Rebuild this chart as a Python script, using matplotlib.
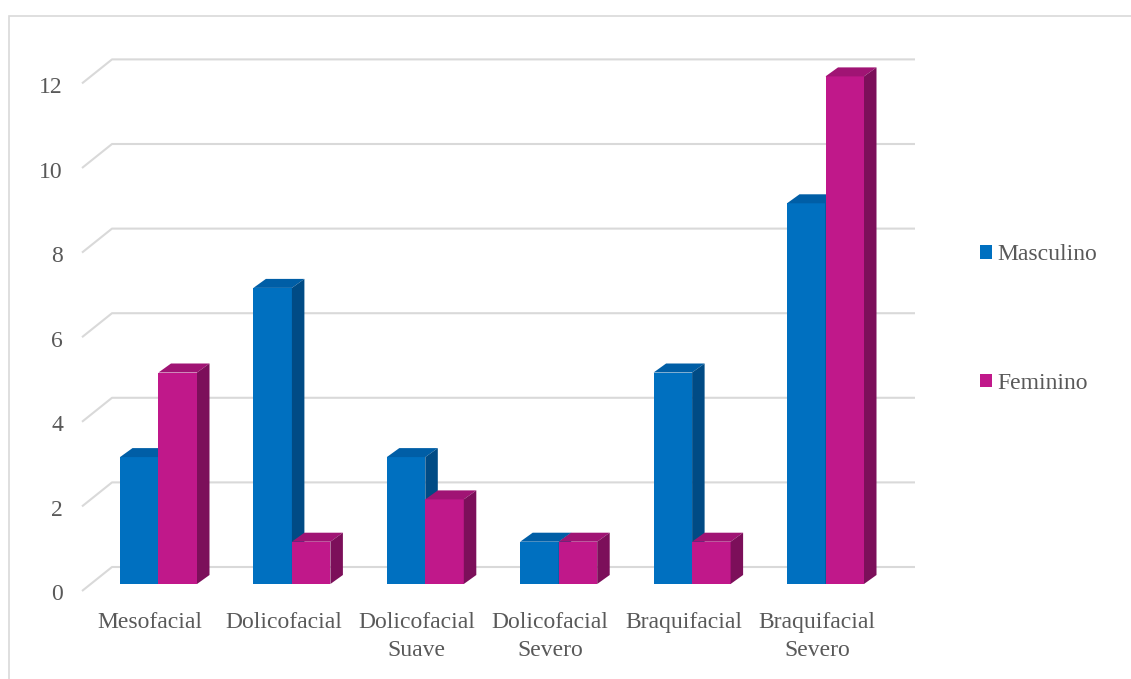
import matplotlib
matplotlib.use('Agg')
import matplotlib.pyplot as plt
from matplotlib.patches import Polygon, Rectangle, Patch

# ---- data ----
categories = ["Mesofacial", "Dolicofacial", "Dolicofacial\nSuave",
              "Dolicofacial\nSevero", "Braquifacial", "Braquifacial\nSevero"]
masculino = [3, 7, 3, 1, 5, 9]
feminino = [5, 1, 2, 1, 1, 12]
series_names = ["Masculino", "Feminino"]
y_ticks = [0, 2, 4, 6, 8, 10, 12]

# ---- styling ----
front_cols = ["#0070C0", "#C0188A"]
top_cols = ["#005EA6", "#A01474"]
side_cols = ["#004B85", "#7C0F5A"]
grid_col = "#D9D9D9"
text_col = "#595959"
FONT = "Liberation Serif"
FS = 17

W, H = 1131, 679
fig = plt.figure(figsize=(W / 100, H / 100), dpi=100)
ax = fig.add_axes([0, 0, 1, 1])
ax.set_axis_off()

# scale: px per category / per unit
PX_X, PX_Y = 133.4, 42.3
X0, Y0 = 158.5, 584.0
ax.set_xlim(-X0 / PX_X, (W - X0) / PX_X)
ax.set_ylim((Y0 - H) / PX_Y, Y0 / PX_Y)

def px_x(p):
    return (p - X0) / PX_X

# gridlines (3D wall + floor edge)
back_dy = 17 / PX_Y
front_dy = -7 / PX_Y
for v in y_ticks:
    ax.plot([px_x(82), px_x(112), px_x(915)],
            [v + front_dy, v + back_dy, v + back_dy],
            color=grid_col, lw=1.5, zorder=1, solid_capstyle='butt')
    ax.text(px_x(63), v - 11 / PX_Y, str(v), ha='right', va='center',
            fontsize=FS, family=FONT, color=text_col)

# bars
bw = 38.5 / PX_X
ddx = 12.5 / PX_X
ddy = 9 / PX_Y
series = [masculino, feminino]
for s, vals in enumerate(series):
    xs = [i - bw + s * bw for i in range(len(categories))]
    ax.bar(xs, vals, width=bw, align='edge', color=front_cols[s],
           zorder=3 + s, linewidth=0)
    for x0, v in zip(xs, vals):
        top = Polygon([(x0, v), (x0 + bw, v), (x0 + bw + ddx, v + ddy),
                       (x0 + ddx, v + ddy)], closed=True,
                      facecolor=top_cols[s], edgecolor='none', zorder=3 + s)
        side = Polygon([(x0 + bw, 0), (x0 + bw + ddx, ddy),
                        (x0 + bw + ddx, v + ddy), (x0 + bw, v)], closed=True,
                       facecolor=side_cols[s], edgecolor='none', zorder=3 + s)
        ax.add_patch(top)
        ax.add_patch(side)

# category labels
for i, c in enumerate(categories):
    ax.text(i + px_x(150) - px_x(158.5), (Y0 - 612) / PX_Y, c,
            ha='center', va='top', multialignment='center', linespacing=1.42,
            fontsize=FS, family=FONT, color=text_col)

# legend
handles = [Patch(facecolor=front_cols[k], edgecolor='none') for k in range(2)]
ax.legend(handles, series_names, loc='center left',
          bbox_to_anchor=(980 / W, 1 - 319 / H), bbox_transform=fig.transFigure,
          frameon=False, borderpad=0, borderaxespad=0, handlelength=0.5,
          handleheight=0.5, handletextpad=0.25, labelspacing=4.55,
          prop={'family': FONT, 'size': FS}, labelcolor=text_col)

# chart border
fig.patches.append(Rectangle((9 / W, -0.1), 1.2, 1.1 - 16 / H,
                             transform=fig.transFigure, fill=False,
                             edgecolor=grid_col, lw=1.2))

fig.savefig('out.png', dpi=100)
